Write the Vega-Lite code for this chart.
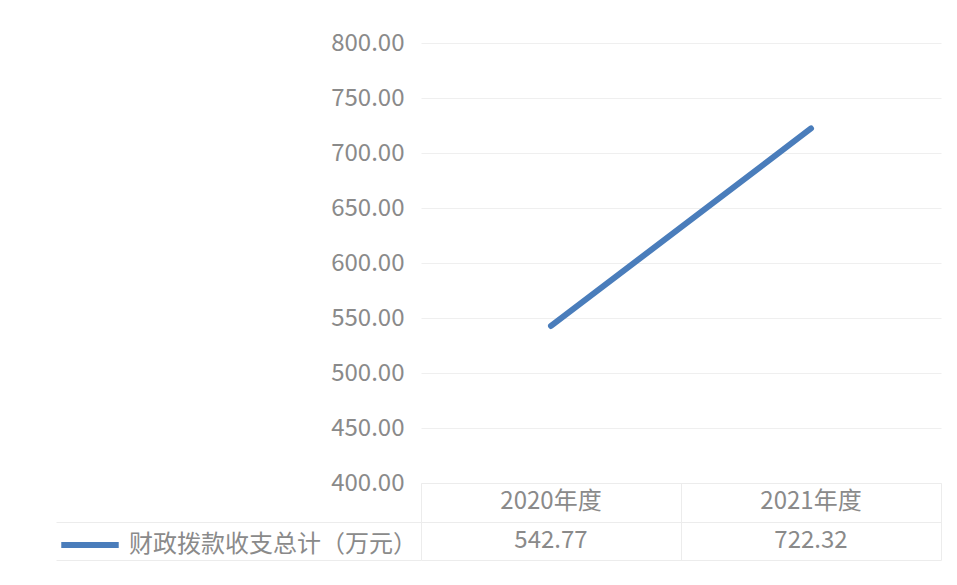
{
  "$schema": "https://vega.github.io/schema/vega-lite/v6.json",
  "autosize": {"type": "pad"},
  "padding": {"left": 55, "top": 31, "right": 17, "bottom": 20},
  "background": "white",
  "bounds": "flush",
  "config": {
    "font": "Noto Sans CJK SC",
    "view": {"stroke": null},
    "concat": {"spacing": 0}
  },
  "data": {
    "values": [
      {"year": "2020年度", "value": 542.77, "series": "财政拨款收支总计（万元）"},
      {"year": "2021年度", "value": 722.32, "series": "财政拨款收支总计（万元）"}
    ]
  },
  "vconcat": [
    {
      "width": 520,
      "height": 440,
      "mark": {"type": "line", "strokeWidth": 6, "strokeCap": "round"},
      "encoding": {
        "x": {"field": "year", "type": "ordinal", "scale": {"type": "point", "padding": 0.5}, "axis": null},
        "y": {
          "field": "value",
          "type": "quantitative",
          "scale": {"domain": [400, 800], "nice": false, "zero": false},
          "axis": {
            "values": [400, 450, 500, 550, 600, 650, 700, 750, 800],
            "format": ".2f",
            "title": null,
            "domain": false,
            "ticks": false,
            "labelFontSize": 24,
            "labelColor": "#8a8a8a",
            "labelPadding": 17,
            "gridColor": "#efefef",
            "gridWidth": 1
          }
        },
        "color": {
          "field": "series",
          "type": "nominal",
          "scale": {"range": ["#4a7dbb"]},
          "legend": {
            "orient": "none",
            "legendX": -363,
            "legendY": 470,
            "title": null,
            "symbolType": "stroke",
            "symbolStrokeWidth": 6,
            "symbolSize": 3300,
            "labelFontSize": 24,
            "labelColor": "#8a8a8a",
            "labelOffset": 7,
            "labelLimit": 500
          }
        }
      }
    },
    {
      "width": 520,
      "height": 77,
      "encoding": {
        "x": {
          "field": "year",
          "type": "nominal",
          "scale": {"paddingInner": 0, "paddingOuter": 0},
          "axis": {"grid": true, "tickBand": "extent", "labels": false, "ticks": false, "domain": false, "title": null, "gridColor": "#ececec"}
        }
      },
      "layer": [
        {
          "mark": {"type": "text", "fontSize": 24, "color": "#8a8a8a"},
          "encoding": {
            "y": {
              "datum": "h",
              "type": "nominal",
              "scale": {"domain": ["h", "v"], "paddingInner": 0, "paddingOuter": 0},
              "axis": {
                "grid": true,
                "tickBand": "extent",
                "labels": false,
                "domain": false,
                "title": null,
                "gridColor": "#ececec",
                "ticks": true,
                "tickSize": 365,
                "tickColor": "#ececec",
                "tickOpacity": {"condition": {"test": "datum.extra != null", "value": 0}, "value": 1}
              }
            },
            "text": {"field": "year"}
          }
        },
        {
          "mark": {"type": "text", "fontSize": 24, "color": "#8a8a8a"},
          "encoding": {
            "y": {"datum": "v", "type": "nominal"},
            "text": {"field": "value", "type": "quantitative", "format": ".2f"}
          }
        }
      ]
    }
  ]
}
